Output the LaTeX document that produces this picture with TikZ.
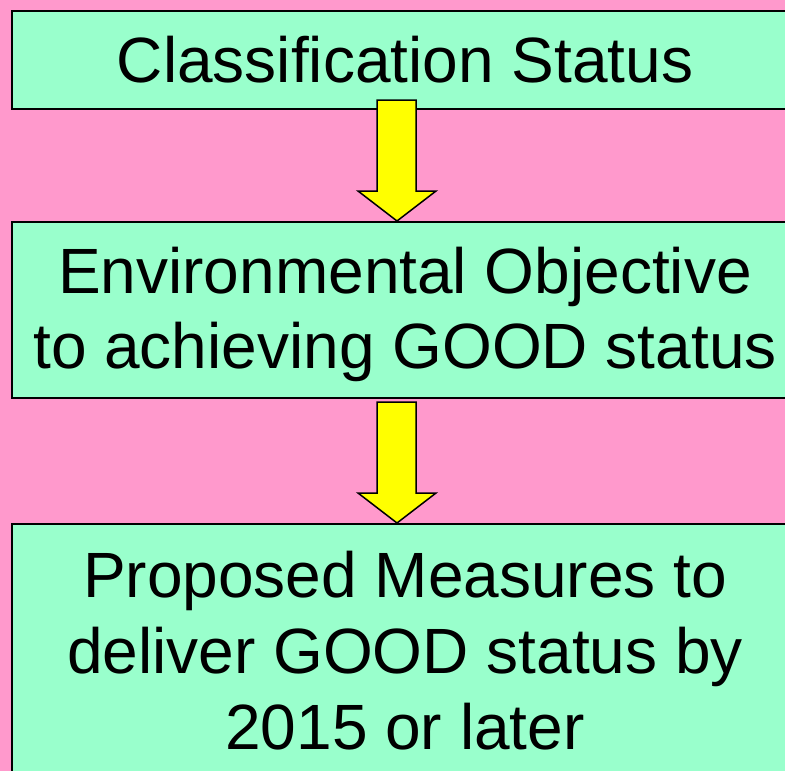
\documentclass[tikz,border=0pt]{standalone}
\usepackage{fontspec}
\setmainfont{Liberation Sans}
\definecolor{bgpink}{HTML}{FF99CC}
\definecolor{boxmint}{HTML}{99FFCC}
\definecolor{arrowyellow}{HTML}{FFFF00}
\begin{document}
\begin{tikzpicture}[x=1pt,y=-1pt,
  box/.style={draw=black,line width=1.5pt,fill=boxmint,rectangle,inner sep=0pt,anchor=north west},
  txt/.style={anchor=base,inner sep=0pt,font=\fontsize{64}{76}\selectfont},
  blockarrow/.style={draw=black,line width=1.5pt,fill=arrowyellow,line join=miter}]
\clip (0,0) rectangle (785,771);
\fill[bgpink] (0,0) rectangle (785,771);
% boxes
\node[box,minimum width=789pt,minimum height=98pt] (b1) at (11,10) {};
\node[box,minimum width=789pt,minimum height=176pt] (b2) at (11,221) {};
\node[box,minimum width=789pt,minimum height=300pt] (b3) at (11,523) {};
% texts
\node[txt] (t1) at (405,82) {Classification Status};
\node[txt] (t2a) at (405,293) {Environmental Objective};
\node[txt] (t2b) at (405,368) {to achieving GOOD status};
\node[txt] (t3a) at (405,597) {Proposed Measures to};
\node[txt] (t3b) at (405,673) {deliver GOOD status by};
\node[txt] (t3c) at (405,749) {2015 or later};
% arrows
\draw[blockarrow] (377,100) -- (416,100) -- (416,191) -- (436,191) -- (397,221) -- (358,191) -- (377,191) -- cycle;
\draw[blockarrow] (377,402) -- (416,402) -- (416,493) -- (436,493) -- (397,523) -- (358,493) -- (377,493) -- cycle;
\end{tikzpicture}
\end{document}
